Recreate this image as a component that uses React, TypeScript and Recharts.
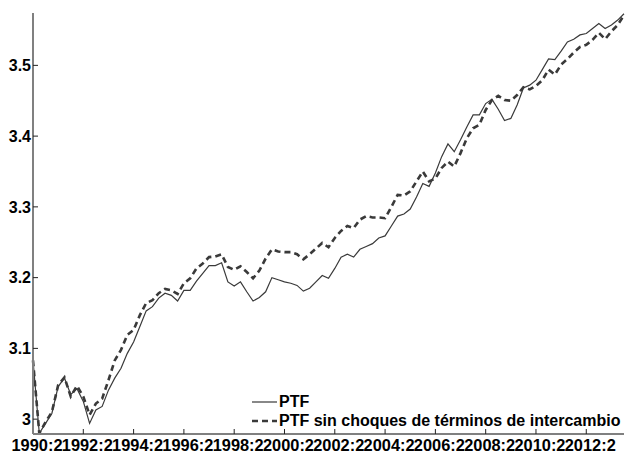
import { LineChart, Line, XAxis, YAxis, Legend } from "recharts";

// quarterly periods 1990:2 .. 2013:4
const quarters: string[] = [];
for (let k = 0; k < 95; k++) {
  const q = ((1 + k) % 4) + 1;
  const y = 1990 + Math.floor((1 + k) / 4);
  quarters.push(`${y}:${q}`);
}

const tickLabels = [
  "1990:2", "1992:2", "1994:2", "1996:2", "1998:2", "2000:2",
  "2002:2", "2004:2", "2006:2", "2008:2", "2010:2", "2012:2",
];

const yTicks = [3, 3.1, 3.2, 3.3, 3.4, 3.5];

const ptf = [
  3.083, 2.98, 2.994, 3.008, 3.046, 3.058, 3.035, 3.043, 3.025, 2.994,
  3.013, 3.018, 3.041, 3.058, 3.072, 3.093, 3.109, 3.131, 3.153, 3.159,
  3.171, 3.178, 3.175, 3.167, 3.182, 3.182, 3.195, 3.206, 3.217, 3.217,
  3.221, 3.194, 3.188, 3.194, 3.18, 3.167, 3.172, 3.18, 3.2, 3.197,
  3.194, 3.192, 3.189, 3.181, 3.185, 3.194, 3.203, 3.199, 3.213, 3.229,
  3.233, 3.229, 3.24, 3.244, 3.248, 3.256, 3.259, 3.273, 3.287, 3.29,
  3.297, 3.314, 3.333, 3.329, 3.348, 3.371, 3.389, 3.378, 3.395, 3.413,
  3.43, 3.43, 3.446, 3.452, 3.438, 3.422, 3.425, 3.444, 3.468, 3.472,
  3.479, 3.494, 3.509, 3.508, 3.52, 3.533, 3.537, 3.543, 3.545, 3.552,
  3.559, 3.552, 3.557, 3.564, 3.573,
];

const ptfSinChoques = [
  3.083, 2.98, 2.996, 3.01, 3.048, 3.059, 3.032, 3.047, 3.032, 3.006,
  3.022, 3.029, 3.055, 3.083, 3.098, 3.119, 3.126, 3.147, 3.164, 3.168,
  3.178, 3.184, 3.182, 3.177, 3.192, 3.199, 3.213, 3.22, 3.229, 3.23,
  3.233, 3.215, 3.211, 3.216, 3.208, 3.199, 3.21, 3.227, 3.24, 3.237,
  3.236, 3.236, 3.233, 3.226, 3.233, 3.241, 3.249, 3.243, 3.256, 3.266,
  3.273, 3.27, 3.282, 3.287, 3.285, 3.285, 3.284, 3.3, 3.317, 3.316,
  3.322, 3.336, 3.35, 3.336, 3.34, 3.355, 3.364, 3.357, 3.376, 3.397,
  3.411, 3.416, 3.437, 3.451, 3.457, 3.451, 3.45, 3.458, 3.469, 3.466,
  3.471, 3.479, 3.494, 3.487, 3.501, 3.509, 3.518, 3.526, 3.529, 3.536,
  3.546, 3.537, 3.548, 3.557, 3.571,
];

const data = quarters.map((q, i) => ({
  q,
  ptf: ptf[i],
  sin: ptfSinChoques[i],
}));

const FONT = "Arial, 'Liberation Sans', sans-serif";
const LINE = "#3a3a3a";

const tickStyle = { fill: "#000", fontSize: 16, fontWeight: "bold", fontFamily: FONT };

function LegendBox({ payload }: any) {
  return (
    <div style={{ fontFamily: FONT, fontWeight: "bold", fontSize: 16, color: "#000" }}>
      {(payload || []).map((p: any) => (
        <div key={p.value} style={{ display: "flex", alignItems: "center", height: 19 }}>
          <svg width={26} height={10} style={{ marginRight: 1 }}>
            <line
              x1={0}
              y1={5}
              x2={25}
              y2={5}
              stroke={LINE}
              strokeWidth={p.payload?.strokeWidth ?? 1.2}
              strokeDasharray={p.payload?.strokeDasharray}
            />
          </svg>
          <span style={{ whiteSpace: "nowrap" }}>{p.value}</span>
        </div>
      ))}
    </div>
  );
}

export default function App() {
  return (
    <div style={{ position: "absolute", left: 0, top: 0, background: "#fff" }}>
      <LineChart
        width={625}
        height={453}
        data={data}
        margin={{ top: 13, right: 1, left: 0, bottom: 0 }}
      >
        <XAxis
          dataKey="q"
          ticks={tickLabels}
          interval={0}
          height={19}
          tickSize={-5}
          tickMargin={10}
          tick={{ ...tickStyle, fontSize: 16.4, dx: 4 }}
          axisLine={{ stroke: "#808080", strokeWidth: 2 }}
          tickLine={{ stroke: "#222" }}
        />
        <YAxis
          type="number"
          domain={[2.979, 3.574]}
          ticks={yTicks}
          width={33}
          tickSize={-5}
          tickMargin={7}
          tick={tickStyle}
          axisLine={{ stroke: "#808080", strokeWidth: 2 }}
          tickLine={{ stroke: "#222" }}
          allowDataOverflow
        />
        <Legend
          layout="vertical"
          align="center"
          verticalAlign="middle"
          content={<LegendBox />}
          wrapperStyle={{ left: 252, top: 392, width: "auto" }}
        />
        <Line
          type="linear"
          dataKey="ptf"
          name="PTF"
          stroke={LINE}
          strokeWidth={1.2}
          dot={false}
          isAnimationActive={false}
        />
        <Line
          type="linear"
          dataKey="sin"
          name="PTF sin choques de términos de intercambio"
          stroke={LINE}
          strokeWidth={2.6}
          strokeDasharray="6 4"
          dot={false}
          isAnimationActive={false}
        />
      </LineChart>
    </div>
  );
}
